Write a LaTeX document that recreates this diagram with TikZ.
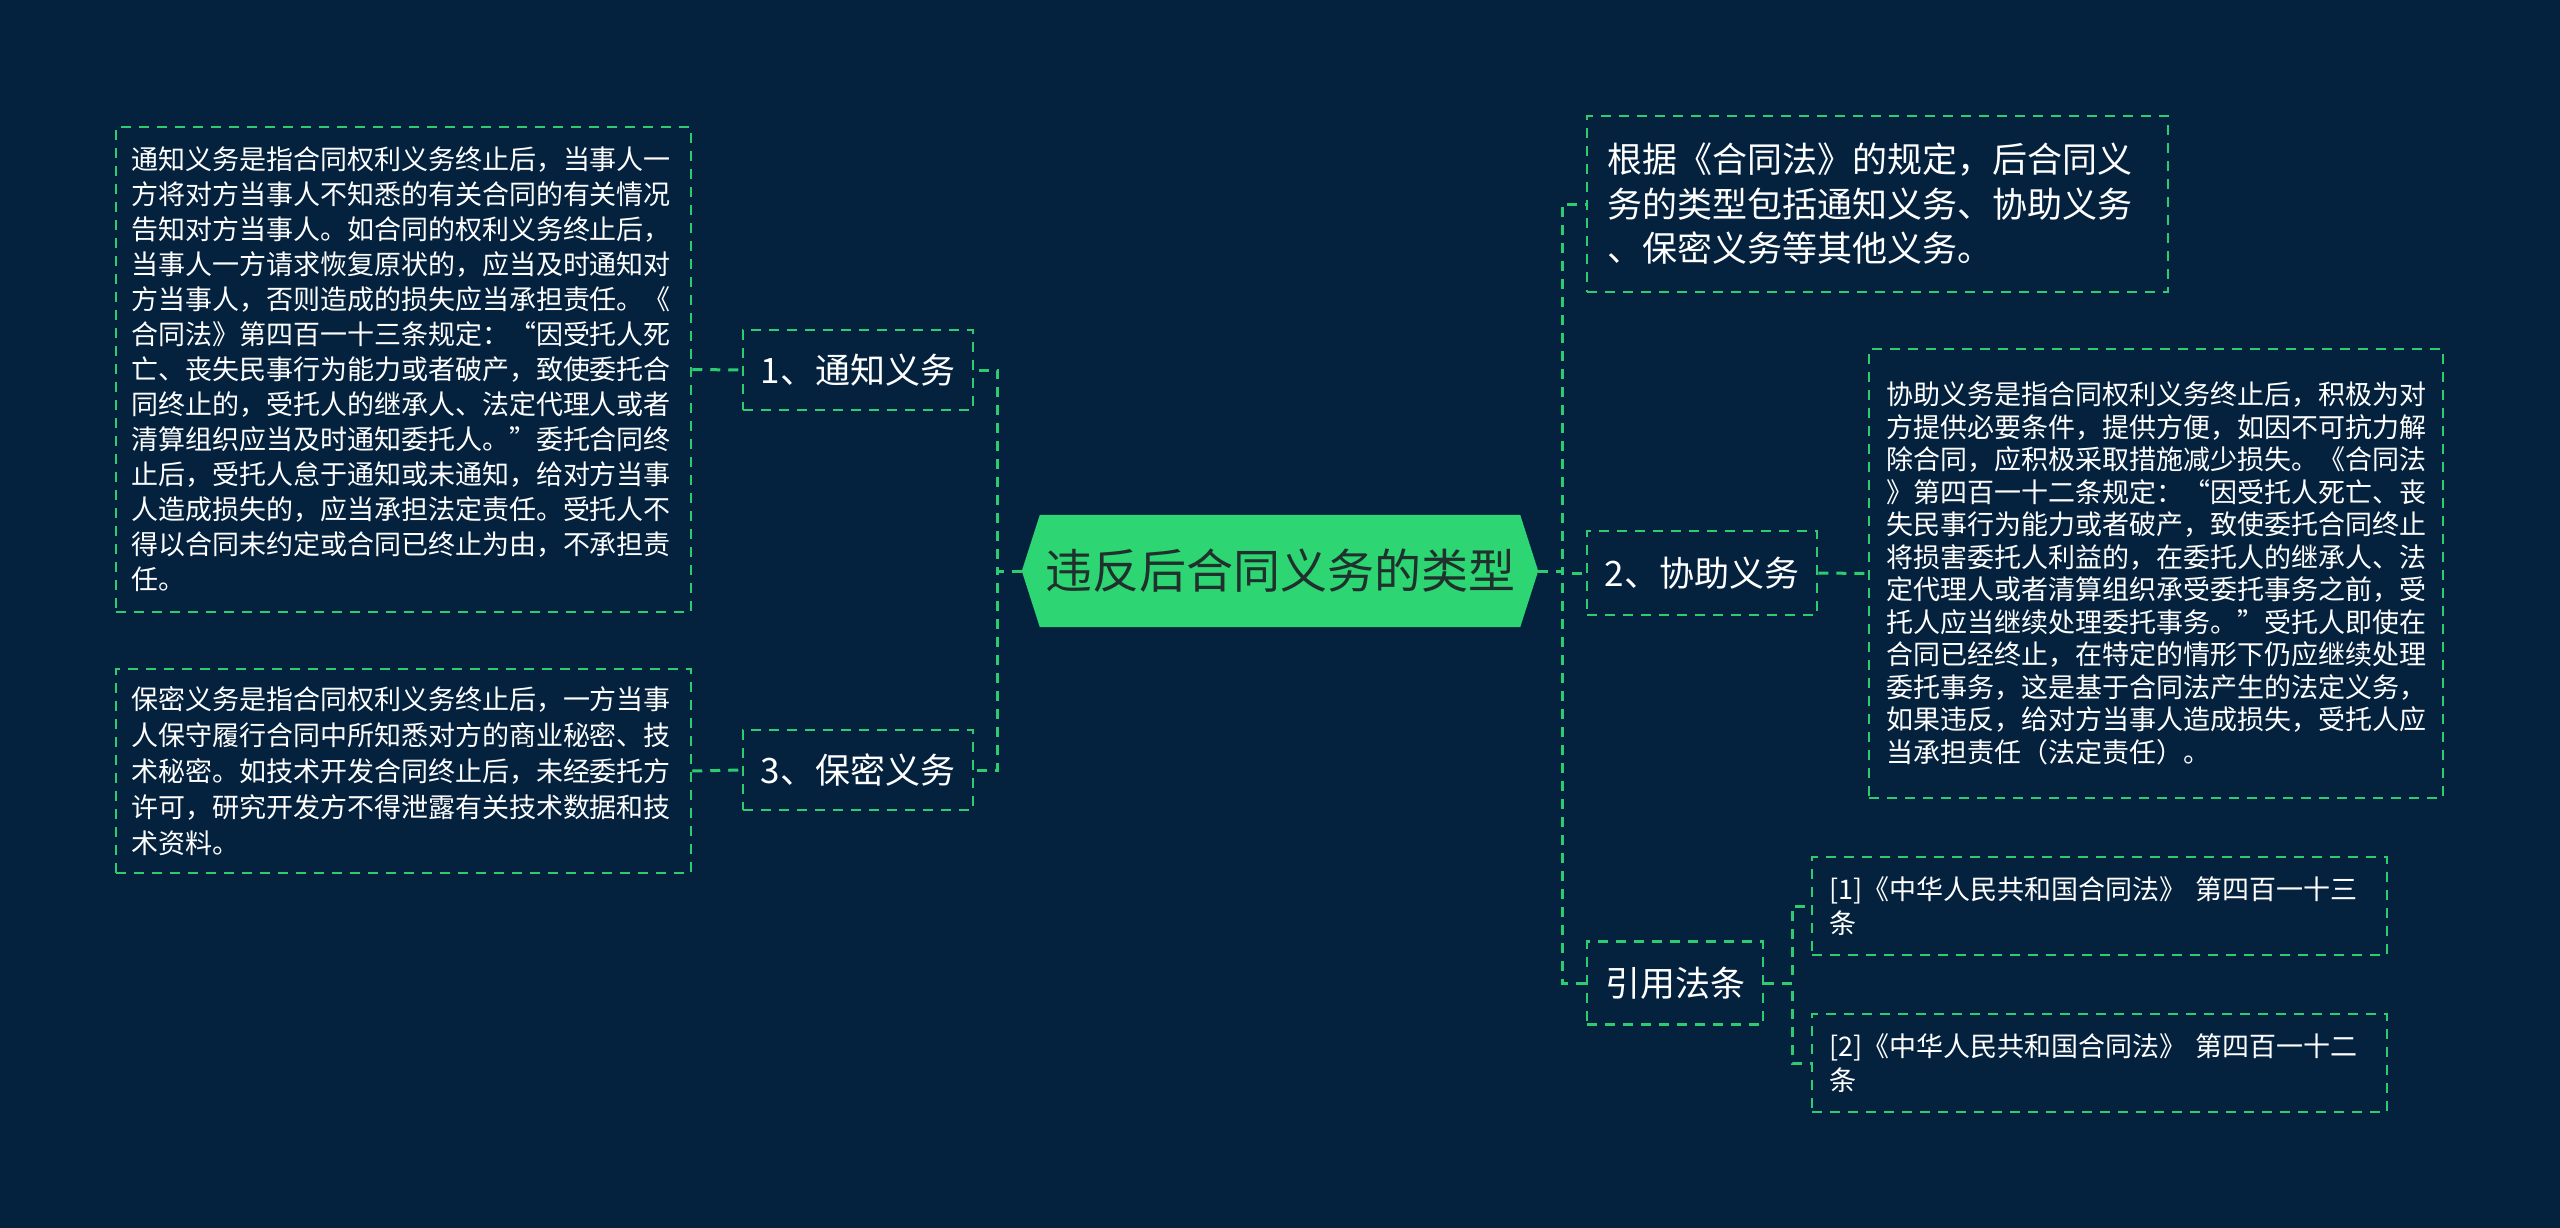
\documentclass[tikz,border=0pt]{standalone}
\usepackage{fontspec}
\newfontfamily\cjk{Noto Sans CJK SC}
\usetikzlibrary{backgrounds}
\definecolor{bgc}{RGB}{4,34,62}
\definecolor{lineg}{RGB}{46,204,113}
\definecolor{rootg}{RGB}{46,213,115}
\definecolor{roottxt}{RGB}{32,48,44}
\tikzset{
  box/.style={draw=lineg, line width=2.5pt, dash pattern=on 10pt off 8pt, text=white, font=\cjk, inner ysep=0pt},
  bigtext/.style={box, align=left, inner xsep=15pt},
  label/.style={box, align=center, font=\cjk\fontsize{35}{42}\selectfont},
  conn/.style={draw=lineg, line width=3pt, dash pattern=on 10pt off 8pt},
}
\begin{document}
\begin{tikzpicture}[x=1pt,y=-1pt]
\begin{pgfonlayer}{background}
\fill[bgc] (0,0) rectangle (2560,1228);
\end{pgfonlayer}
\useasboundingbox (0,0) rectangle (2560,1228);

% root
\node[font=\cjk\fontsize{47}{56}\selectfont, text=roottxt, minimum width=516, minimum height=112, inner sep=0pt] (root) at (1280,571) {违反后合同义务的类型};
\begin{pgfonlayer}{background}
\fill[rootg] (root.west) -- ([xshift=18pt]root.north west) -- ([xshift=-18pt]root.north east) -- (root.east) -- ([xshift=-18pt]root.south east) -- ([xshift=18pt]root.south west) -- cycle;
\end{pgfonlayer}

% left
\node[label, minimum width=230, minimum height=80] (n1) at (858,370) {1、通知义务};
\node[label, minimum width=230, minimum height=80] (n3) at (858,770) {3、保密义务};

\node[bigtext, font=\cjk\fontsize{27}{35}\selectfont, text width=545, minimum width=575, minimum height=485] (t1) at (403.5,369.5) {通知义务是指合同权利义务终止后，当事人一\\方将对方当事人不知悉的有关合同的有关情况\\告知对方当事人。如合同的权利义务终止后，\\当事人一方请求恢复原状的，应当及时通知对\\方当事人，否则造成的损失应当承担责任。《\\合同法》第四百一十三条规定：“因受托人死\\亡、丧失民事行为能力或者破产，致使委托合\\同终止的，受托人的继承人、法定代理人或者\\清算组织应当及时通知委托人。”委托合同终\\止后，受托人怠于通知或未通知，给对方当事\\人造成损失的，应当承担法定责任。受托人不\\得以合同未约定或合同已终止为由，不承担责\\任。};

\node[bigtext, font=\cjk\fontsize{27}{36}\selectfont, text width=545, minimum width=575, minimum height=204] (t3) at (403.5,771) {保密义务是指合同权利义务终止后，一方当事\\人保守履行合同中所知悉对方的商业秘密、技\\术秘密。如技术开发合同终止后，未经委托方\\许可，研究开发方不得泄露有关技术数据和技\\术资料。};

% right
\node[bigtext, font=\cjk\fontsize{35}{44.5}\selectfont, inner xsep=20pt, text width=541, minimum width=581, minimum height=176] (top) at (1877.5,204) {根据《合同法》的规定，后合同义\\务的类型包括通知义务、协助义务\\、保密义务等其他义务。};

\node[label, minimum width=230, minimum height=84] (n2) at (1702,573) {2、协助义务};

\node[bigtext, font=\cjk\fontsize{27}{32.5}\selectfont, inner xsep=17pt, text width=540, minimum width=574, minimum height=449] (t2) at (2156,573.5) {协助义务是指合同权利义务终止后，积极为对\\方提供必要条件，提供方便，如因不可抗力解\\除合同，应积极采取措施减少损失。《合同法\\》第四百一十二条规定：“因受托人死亡、丧\\失民事行为能力或者破产，致使委托合同终止\\将损害委托人利益的，在委托人的继承人、法\\定代理人或者清算组织承受委托事务之前，受\\托人应当继续处理委托事务。”受托人即使在\\合同已经终止，在特定的情形下仍应继续处理\\委托事务，这是基于合同法产生的法定义务，\\如果违反，给对方当事人造成损失，受托人应\\当承担责任（法定责任）。};

\node[label, minimum width=176, minimum height=83] (n4) at (1675,983) {引用法条};

\node[bigtext, font=\cjk\fontsize{27}{34}\selectfont, inner xsep=17pt, text width=541, minimum width=575, minimum height=98] (r1) at (2099.5,906) {[1]《中华人民共和国合同法》 第四百一十三\\条};
\node[bigtext, font=\cjk\fontsize{27}{34}\selectfont, inner xsep=17pt, text width=541, minimum width=575, minimum height=98] (r2) at (2099.5,1063) {[2]《中华人民共和国合同法》 第四百一十二\\条};

% connectors
\draw[conn] (root.west) -- ++(-24,0) |- (n1.east);
\draw[conn] (root.west) -- ++(-24,0) |- (n3.east);
\draw[conn] (t1.east) -- (n1.west);
\draw[conn] (t3.east) -- (n3.west);
\draw[conn] (root.east) -- ++(24,0) |- (top.west);
\draw[conn] (root.east) -- ++(24,0) |- (n2.west);
\draw[conn] (root.east) -- ++(24,0) |- (n4.west);
\draw[conn] (n2.east) -- (t2.west);
\draw[conn] (n4.east) -- ++(28,0) |- (r1.west);
\draw[conn] (n4.east) -- ++(28,0) |- (r2.west);
\end{tikzpicture}
\end{document}
